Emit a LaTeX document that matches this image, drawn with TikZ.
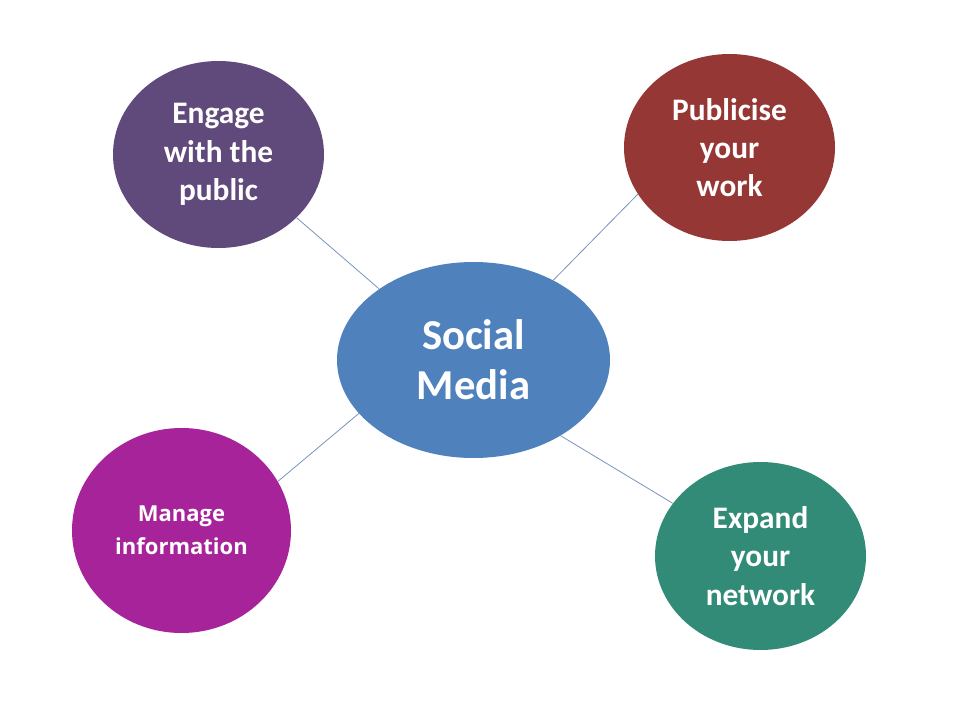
\documentclass[tikz,border=0pt]{standalone}
\usepackage{fontspec}
\setmainfont{Carlito}
\newfontfamily\manfont{Open Sans}
\usepackage{tikz}
\usetikzlibrary{shapes.geometric}

\definecolor{socblue}{HTML}{4F81BD}
\definecolor{engpurple}{HTML}{604A7B}
\definecolor{pubred}{HTML}{953735}
\definecolor{manmagenta}{HTML}{A6239A}
\definecolor{expteal}{HTML}{318B76}
\definecolor{linkblue}{HTML}{7894BE}

\begin{document}
\begin{tikzpicture}[
    x=0.75pt, y=-0.75pt,
    bubble/.style={ellipse, draw=none, inner sep=0pt, align=center, text=white, font=\bfseries\fontsize{23.5}{28.75}\selectfont, minimum width=158.25pt, minimum height=140.25pt},
    hub/.style={bubble, fill=socblue, font=\bfseries\fontsize{32}{37.5}\selectfont, minimum width=204.75pt, minimum height=147pt},
    link/.style={draw=linkblue, line width=0.6pt}
]
\useasboundingbox (0,0) rectangle (960,720);

\node[hub] (soc) at (473.5,360) {Social\\Media};
\node[bubble, fill=engpurple] (eng) at (218.5,154.5) {Engage\\with the\\public};
\node[bubble, fill=pubred] (pub) at (729.5,147.5) {Publicise\\your\\work};
\node[bubble, fill=manmagenta, font=\manfont\bfseries\fontsize{16.5}{24.75}\selectfont, minimum width=164.25pt, minimum height=153.75pt] (man) at (181.5,530.5) {Manage\\information};
\node[bubble, fill=expteal, minimum height=141pt] (exp) at (760.5,556) {Expand\\your\\network};

% spokes
\draw[link] (soc.143.8) -- (eng.321.2);
\draw[link] (soc.45.2) -- (pub.207.9);
\draw[link] (soc.205) -- (man.27.6);
\draw[link] (soc.319.7) -- (exp.149.4);
\end{tikzpicture}
\end{document}
